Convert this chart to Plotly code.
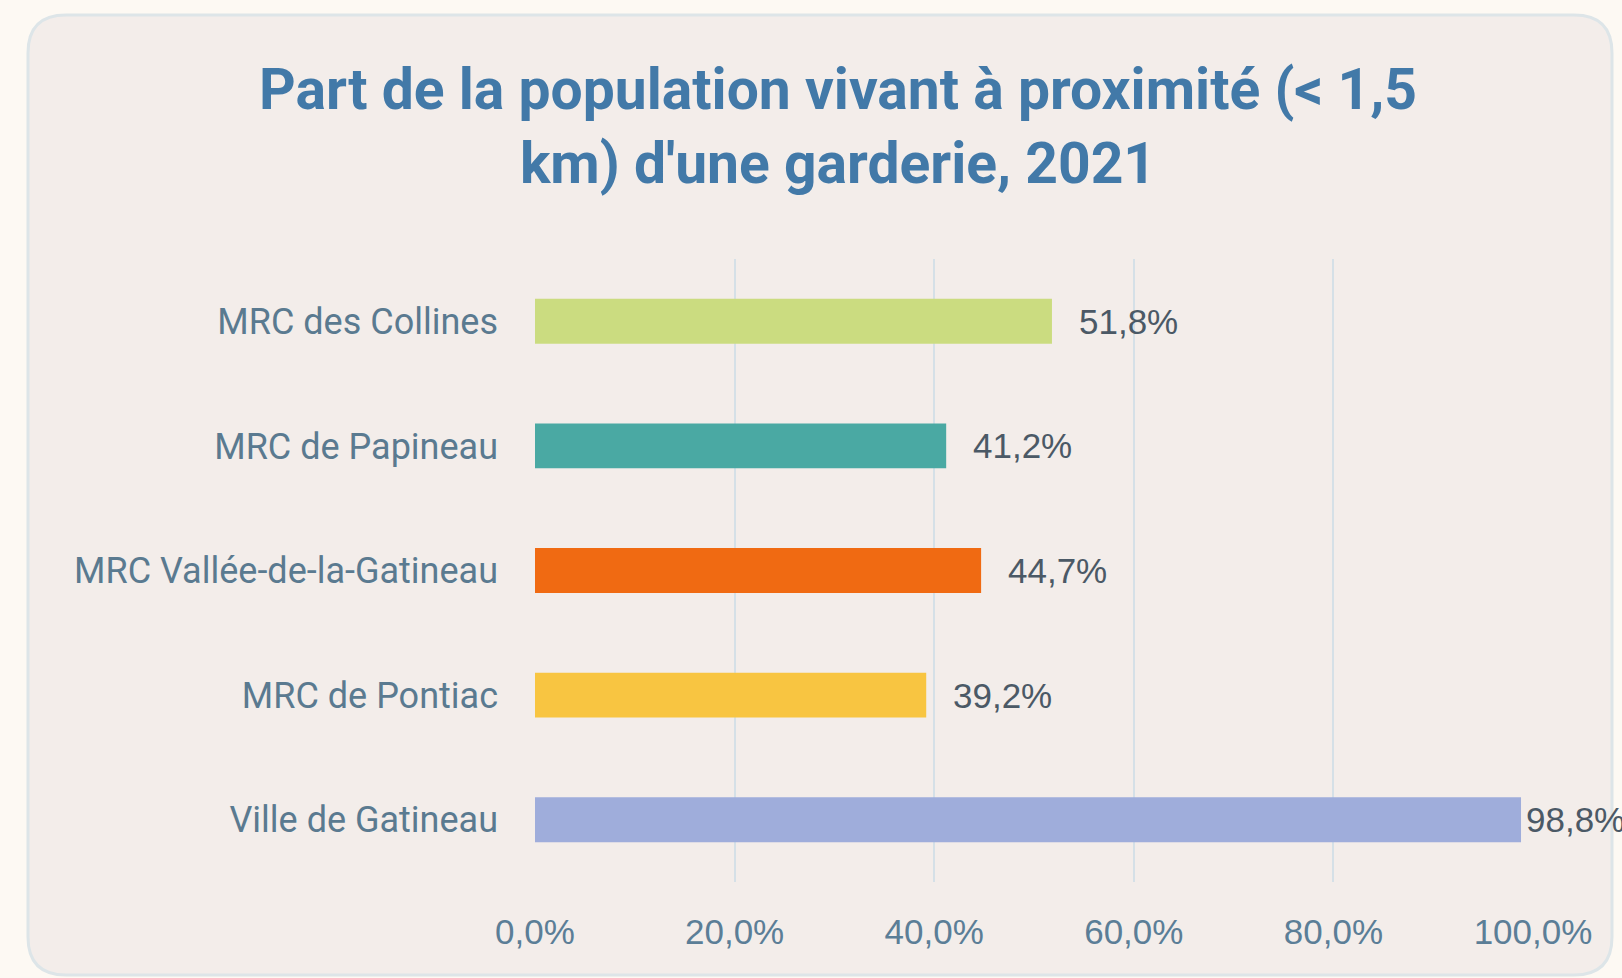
import plotly.graph_objects as go

# ---- Data ----
categories = ["MRC des Collines", "MRC de Papineau", "MRC Vallée-de-la-Gatineau",
              "MRC de Pontiac", "Ville de Gatineau"]
values = [51.8, 41.2, 44.7, 39.2, 98.8]
bar_colors = ["#CBDC80", "#4AA9A3", "#F06A12", "#F8C541", "#9FADDB"]
label_shift = [25, 25, 25, 25, 3]
tick_vals = [0, 20, 40, 60, 80, 100]
tick_text = ["0,0%", "20,0%", "40,0%", "60,0%", "80,0%", "100,0%"]

title_text = "Part de la population vivant à proximité (< 1,5<br>km) d'une garderie, 2021"

W, H = 1622, 978


def px(x):
    return x / W


def py(y):
    return 1 - y / H


# plot area in pixels
X0, X1 = 535, 1533
Y0, Y1 = 259, 882

fig = go.Figure()
fig.add_trace(go.Bar(
    y=categories, x=values, orientation="h",
    marker=dict(color=bar_colors, line=dict(width=0)),
    width=0.36, showlegend=False, hoverinfo="x+y",
))

for c, v, s in zip(categories, values, label_shift):
    fig.add_annotation(
        x=v, y=c, xref="x", yref="y", text=f"{v:.1f}%".replace(".", ","),
        showarrow=False, xanchor="left", yanchor="middle", xshift=s,
        font=dict(family="Liberation Sans, Arial, sans-serif", size=35, color="#4B5966"),
    )

# rounded card
cx0, cy0, cx1, cy1, r = 28, 15, 1612, 975, 38
path = (
    f"M {px(cx0 + r)},{py(cy0)} L {px(cx1 - r)},{py(cy0)} "
    f"Q {px(cx1)},{py(cy0)} {px(cx1)},{py(cy0 + r)} "
    f"L {px(cx1)},{py(cy1 - r)} Q {px(cx1)},{py(cy1)} {px(cx1 - r)},{py(cy1)} "
    f"L {px(cx0 + r)},{py(cy1)} Q {px(cx0)},{py(cy1)} {px(cx0)},{py(cy1 - r)} "
    f"L {px(cx0)},{py(cy0 + r)} Q {px(cx0)},{py(cy0)} {px(cx0 + r)},{py(cy0)} Z"
)
fig.add_shape(type="path", path=path, xref="paper", yref="paper",
              fillcolor="#F3EDEA", line=dict(color="#DDE5E8", width=3), layer="below")

fig.update_layout(
    width=W, height=H, autosize=False,
    margin=dict(l=0, r=0, t=0, b=0, pad=0, autoexpand=False),
    paper_bgcolor="#FDF9F3",
    plot_bgcolor="rgba(0,0,0,0)",
    title=dict(
        text=title_text, x=838 / W, xanchor="center", xref="container",
        y=1 - 109 / H, yanchor="middle", yref="container", automargin=False,
        font=dict(family="Roboto, Open Sans, sans-serif", size=57, color="#4279A8", weight="bold"),
    ),
    xaxis=dict(
        domain=[px(X0), px(X1)], range=[0, 100], automargin=False,
        tickmode="array", tickvals=tick_vals, ticktext=tick_text,
        showgrid=True, gridcolor="#D5E0E7", gridwidth=2,
        zeroline=False, showline=False, ticks="",
        ticklabelstandoff=26,
        tickfont=dict(family="Liberation Sans, Arial, sans-serif", size=35, color="#5B7E97"),
        fixedrange=True,
    ),
    yaxis=dict(
        domain=[py(Y1), py(Y0)], autorange="reversed", automargin=False,
        categoryorder="array", categoryarray=categories,
        showgrid=False, zeroline=False, showline=False, ticks="",
        ticklabelstandoff=36,
        tickfont=dict(family="Roboto, Open Sans, sans-serif", size=36, color="#5A7A90"),
        fixedrange=True,
    ),
)

fig.write_html("out.html", config={"displayModeBar": False},
               post_script="document.body.style.margin='0px';")
